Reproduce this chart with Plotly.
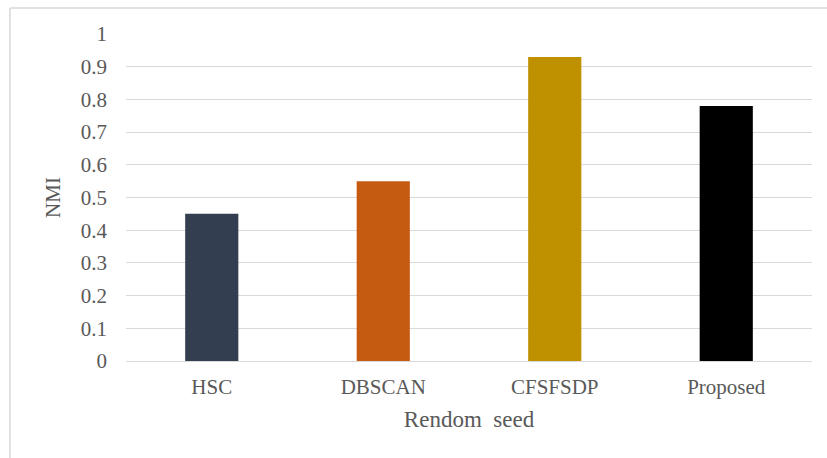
import plotly.graph_objects as go

# Clustering methods and their NMI scores
methods = ["HSC", "DBSCAN", "CFSFSDP", "Proposed"]
nmi = [0.45, 0.55, 0.93, 0.78]
bar_colors = ["#333f50", "#c55a11", "#bf9000", "#000000"]

y_ticks = [0, 0.1, 0.2, 0.3, 0.4, 0.5, 0.6, 0.7, 0.8, 0.9, 1]
y_tick_text = ["0", "0.1", "0.2", "0.3", "0.4", "0.5", "0.6", "0.7", "0.8", "0.9", "1"]

W, H = 827, 458
ML, MR, MT, MB = 126, 15, 34, 97
pw, ph = W - ML - MR, H - MT - MB

def px_x(px):
    return (px - ML) / pw

def px_y(py):
    return (H - MB - py) / ph

font_family = "Liberation Serif, Times New Roman, serif"
text_color = "#595959"

fig = go.Figure(
    go.Bar(
        x=methods,
        y=nmi,
        marker=dict(color=bar_colors, line=dict(width=0)),
        width=0.31,
        hoverinfo="x+y",
    )
)

fig.update_layout(
    width=W,
    height=H,
    margin=dict(l=ML, r=MR, t=MT, b=MB),
    paper_bgcolor="white",
    plot_bgcolor="white",
    showlegend=False,
    font=dict(family=font_family, size=21, color=text_color),
    xaxis=dict(
        title=dict(text="Rendom  seed", font=dict(size=23, color=text_color), standoff=12),
        tickfont=dict(size=21, color=text_color),
        showgrid=False,
        showline=False,
        ticks="",
        ticklabelstandoff=11,
    ),
    yaxis=dict(
        title=dict(text="NMI", font=dict(size=21, color=text_color), standoff=14),
        range=[0, 1],
        tickvals=y_ticks,
        ticktext=y_tick_text,
        tickfont=dict(size=21, color=text_color),
        showgrid=True,
        gridcolor="#d9d9d9",
        gridwidth=1,
        zeroline=True,
        zerolinecolor="#d9d9d9",
        zerolinewidth=1,
        showline=False,
        ticks="",
        ticklabelstandoff=18,
    ),
    shapes=[
        # chart-area frame: top and left edges
        dict(type="line", xref="paper", yref="paper",
             x0=px_x(10), x1=px_x(W), y0=px_y(8), y1=px_y(8),
             line=dict(color="#d9d9d9", width=1.5)),
        dict(type="line", xref="paper", yref="paper",
             x0=px_x(10), x1=px_x(10), y0=px_y(8), y1=px_y(H),
             line=dict(color="#d9d9d9", width=1.5)),
    ],
)

fig.write_html("out.html")
